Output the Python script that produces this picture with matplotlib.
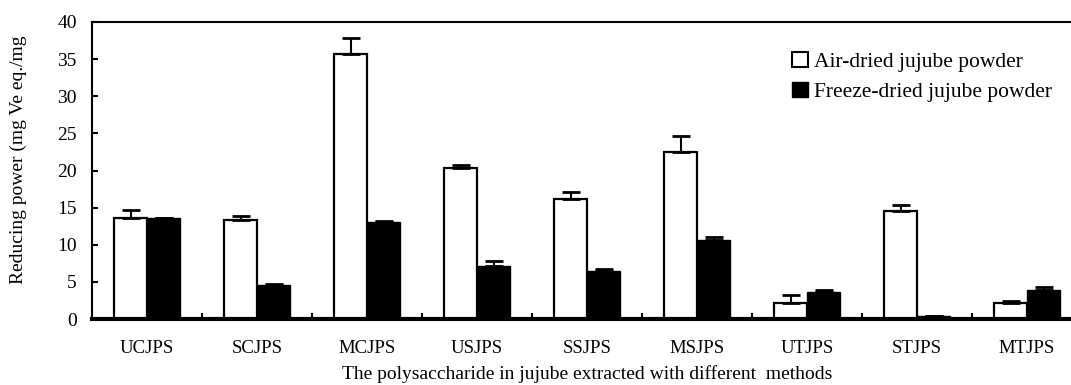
import matplotlib
matplotlib.use("Agg")
import matplotlib.pyplot as plt
from matplotlib.patches import Patch
import numpy as np

categories = ["UCJPS", "SCJPS", "MCJPS", "USJPS", "SSJPS", "MSJPS", "UTJPS", "STJPS", "MTJPS"]
air_dried = [13.6, 13.4, 35.7, 20.4, 16.1, 22.5, 2.15, 14.6, 2.15]
air_err = [1.1, 0.5, 2.1, 0.4, 1.0, 2.1, 1.1, 0.7, 0.3]
freeze_dried = [13.6, 4.6, 13.0, 7.1, 6.4, 10.7, 3.65, 0.45, 3.95]
freeze_err = [0.05, 0.1, 0.2, 0.7, 0.35, 0.3, 0.3, 0.0, 0.3]
yticks = [0, 5, 10, 15, 20, 25, 30, 35, 40]

plt.rcParams['font.family'] = ['Liberation Serif', 'DejaVu Serif']

fig = plt.figure(figsize=(10.71, 3.85), dpi=100)
ax = fig.add_axes([92/1071, 1-319/385, 990/1071, (319-22)/385])

x = np.arange(len(categories))
w = 0.3
ax.bar(x, air_dried, width=-w, align='edge', color='white', edgecolor='black', linewidth=1.6, zorder=2)
ax.bar(x, freeze_dried, width=w, align='edge', color='black', edgecolor='black', linewidth=1.0, zorder=2)
ax.errorbar(x - w/2, air_dried, yerr=[np.zeros(len(x)), air_err], fmt='none', ecolor='black',
            elinewidth=1.5, capsize=6.5, capthick=2, zorder=3)
ax.errorbar(x + w/2, freeze_dried, yerr=[np.zeros(len(x)), freeze_err], fmt='none', ecolor='black',
            elinewidth=1.5, capsize=6.5, capthick=2, zorder=3)

ax.set_xlim(-0.5, len(categories) - 0.5)
ax.set_ylim(0, 40)
ax.set_yticks(yticks)
ax.set_yticklabels([str(v) for v in yticks], fontsize=14)
ax.set_xticks(x)
ax.set_xticklabels(categories, fontsize=13.5)
ax.tick_params(axis='x', which='major', length=0, pad=15)
ax.set_xticks(x[:-1] + 0.5, minor=True)
ax.tick_params(axis='x', which='minor', direction='in', length=4, width=1.5)
ax.tick_params(axis='y', direction='in', length=4, width=1.5, pad=11)

for s in ['left', 'top', 'right']:
    ax.spines[s].set_linewidth(1.5)
ax.spines['bottom'].set_linewidth(3)

ax.set_ylabel("Reducing power (mg Ve eq./mg", fontsize=14)
ax.yaxis.set_label_coords(-0.066, 0.535)
ax.set_xlabel("The polysaccharide in jujube extracted with different  methods", fontsize=14)
ax.xaxis.set_label_coords(0.5, -0.155)
ax.xaxis.label.set_va('top')

handles = [Patch(facecolor='white', edgecolor='black', linewidth=1.5, label='Air-dried jujube powder'),
           Patch(facecolor='black', edgecolor='black', label='Freeze-dried jujube powder')]
ax.legend(handles=handles, loc='upper left', bbox_to_anchor=(0.688, 0.965), frameon=False,
          fontsize=15.5, handlelength=0.7, handleheight=0.7, handletextpad=0.3, labelspacing=0.45)

fig.savefig("out.png", dpi=100)
